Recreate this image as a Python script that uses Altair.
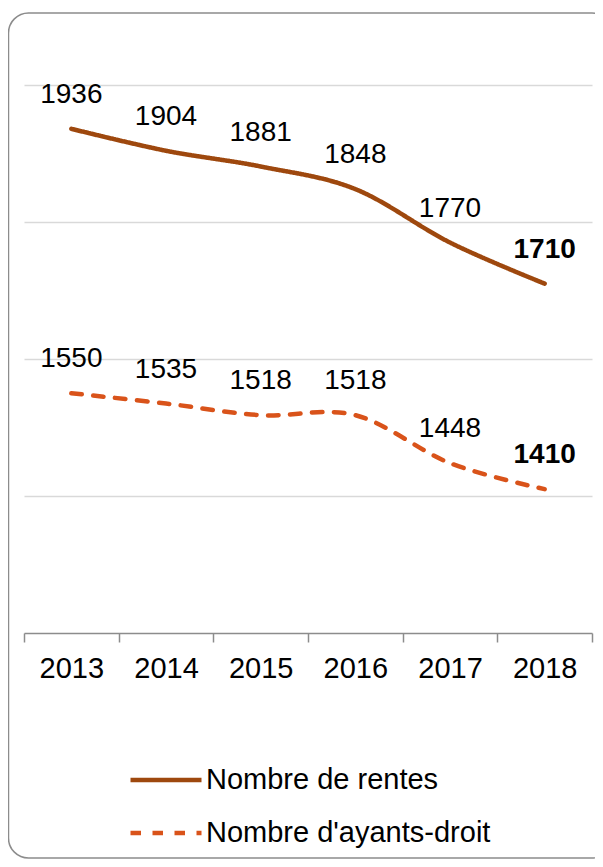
import altair as alt
import pandas as pd

years = ["2013", "2014", "2015", "2016", "2017", "2018"]
rentes = [1936, 1904, 1881, 1848, 1770, 1710]
ayants = [1550, 1535, 1518, 1518, 1448, 1410]
series = ["Nombre de rentes", "Nombre d'ayants-droit"]
colors = ["#9E480E", "#D9531A"]
dashes = [[1, 0], [10.5, 11.5]]
grid_values = [1400, 1600, 1800, 2000]

rows = []
for s, vals in zip(series, [rentes, ayants]):
    for i, (yr, v) in enumerate(zip(years, vals)):
        rows.append({"year": yr, "value": v, "series": s, "last": i == len(years) - 1})
df = pd.DataFrame(rows)

FONT = "Liberation Sans"

x = alt.X(
    "year:O", title=None, bandPosition=0.5,
    scale=alt.Scale(type="band", paddingInner=0, paddingOuter=0),
    axis=alt.Axis(tickBand="extent", labelAngle=0, grid=False,
                  domainColor="#8C8C8C", domainWidth=1.5,
                  tickColor="#8C8C8C", tickWidth=1.5, tickSize=9,
                  labelFontSize=29, labelPadding=12, labelColor="#000000",
                  labelFont=FONT),
)
y = alt.Y(
    "value:Q", title=None,
    scale=alt.Scale(domain=[1200, 2000], nice=False, zero=False),
    axis=alt.Axis(values=grid_values, labels=False, ticks=False, domain=False,
                  grid=True, gridColor="#D9D9D9", gridWidth=1.5),
)

legend = alt.Legend(
    title=None, orient="none", legendX=104, legendY=657, direction="vertical",
    labelFontSize=29, labelFont=FONT, labelColor="#000000", labelLimit=500,
    symbolSize=5041, symbolStrokeWidth=4.5, symbolType="stroke",
    labelOffset=2, padding=0, rowPadding=-20,
)

base = alt.Chart(df)

lines = base.mark_line(strokeWidth=4.5, strokeCap="round", interpolate="cardinal").encode(
    x=x, y=y,
    color=alt.Color("series:N", scale=alt.Scale(domain=series, range=colors), legend=legend),
    strokeDash=alt.StrokeDash("series:N", scale=alt.Scale(domain=series, range=dashes), legend=legend),
)

labels = base.transform_filter("!datum.last").mark_text(
    fontSize=28, font=FONT, dy=-34, baseline="middle", align="center", color="#000000"
).encode(x=x, y=y, text="value:Q")

labels_last = base.transform_filter("datum.last").mark_text(
    fontSize=28, font=FONT, fontWeight="bold", dy=-34, baseline="middle", align="center", color="#000000"
).encode(x=x, y=y, text="value:Q")

frame = alt.Chart(pd.DataFrame({"f": [0]})).mark_rect(
    filled=False, stroke="#8C8C8C", strokeWidth=1.5, cornerRadius=20
).encode(x=alt.value(-15.5), x2=alt.value(588), y=alt.value(-72), y2=alt.value(773))

chart = alt.layer(frame, lines, labels, labels_last).properties(
    width=568, height=548,
    autosize=alt.AutoSizeParams(type="none"),
    padding={"left": 16, "top": 77, "right": 3, "bottom": 226},
).configure(font=FONT).configure_view(stroke=None)

chart.save("out.html", embed_options={"renderer": "svg", "actions": False})
